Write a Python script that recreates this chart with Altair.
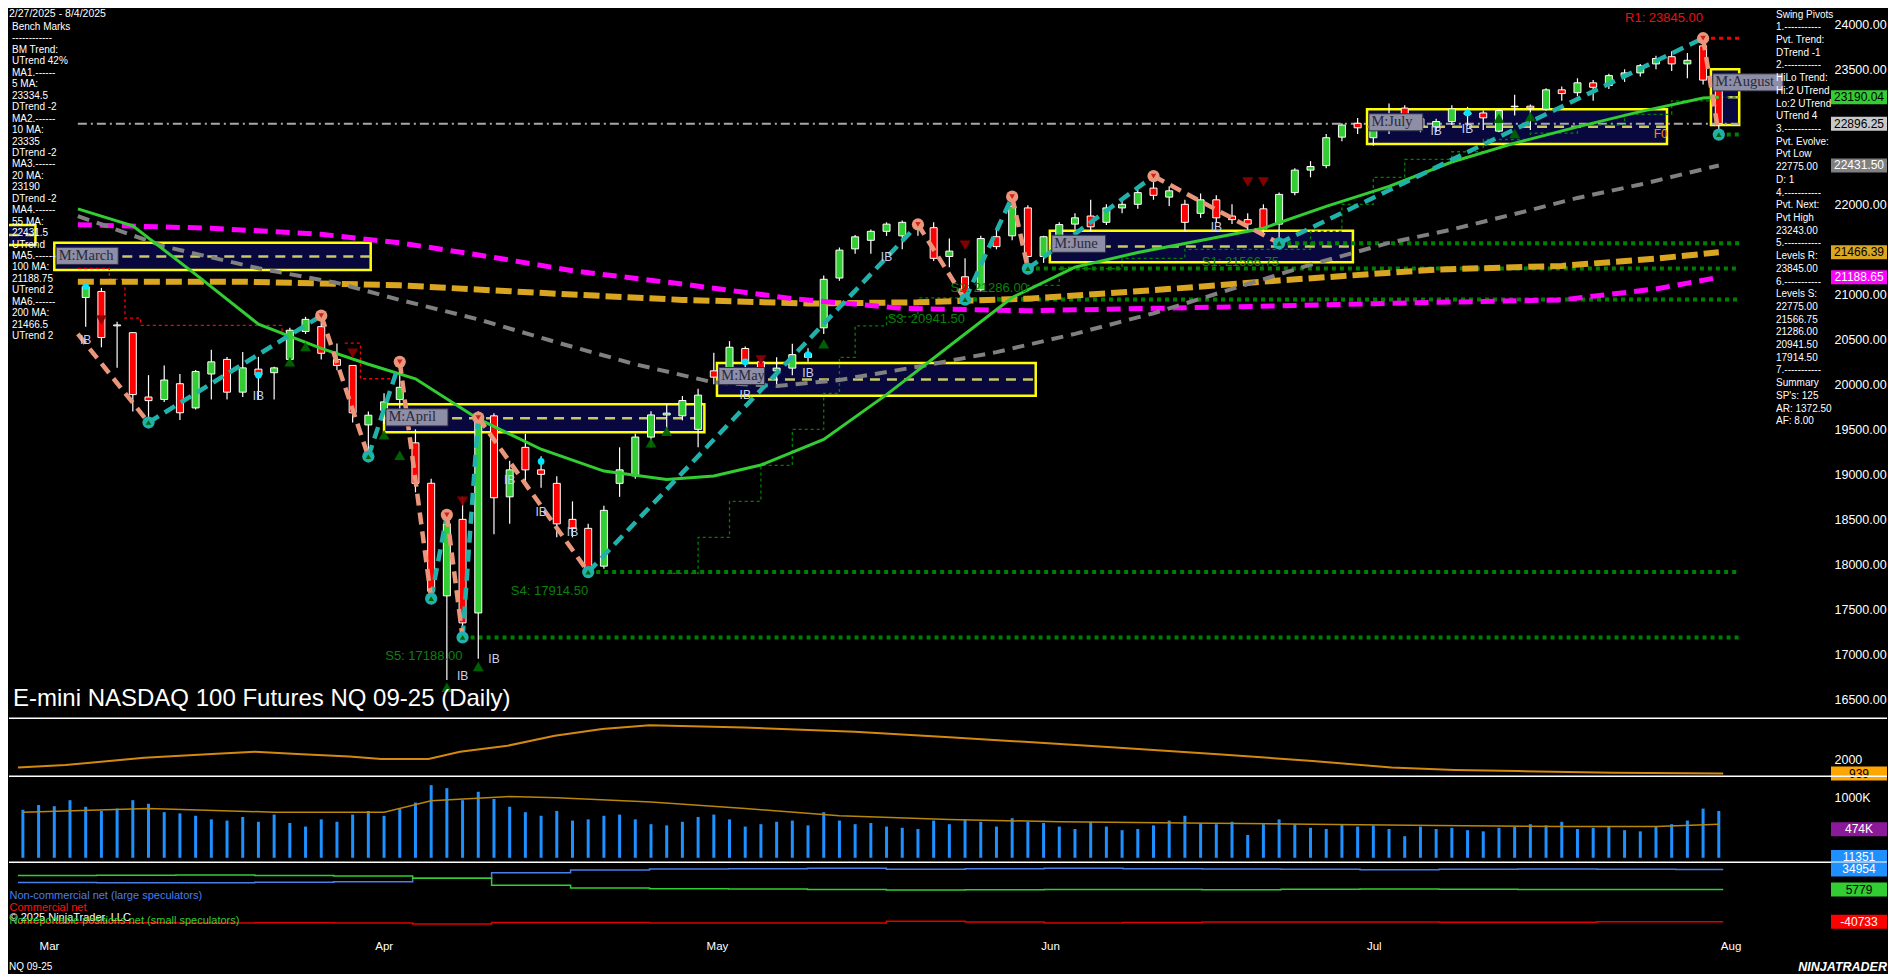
import altair as alt
import pandas as pd

FONT = "Liberation Sans"
SERIF = "Liberation Serif"

# ------------------------------------------------------------------ data
bar_idx = list(range(105))  # daily bars 5 Mar 2025 .. 1 Aug 2025
opens = [20965, 21032, 20660, 20574, 19859, 19832, 20007, 19738, 20115, 20277,
         19913, 20169, 20129, 20277, 20587, 20641, 20277, 20210, 19549, 19711,
         19832, 19350, 18901, 17650, 18500, 17460, 19650, 18750, 19300, 19050,
         18900, 18500, 18400, 17980, 18900, 18983, 19414, 19660, 19650, 19500,
         20150, 20100, 20398, 20250, 20150, 20180, 20340, 20628, 21181, 21505,
         21600, 21700, 21650, 21780, 21740, 21420, 21195, 21050, 21640, 21650,
         21960, 21420, 21640, 21780, 21870, 21800, 21960, 22000, 22180, 22080,
         22000, 21900, 22050, 21870, 21830, 21950, 21780, 22130, 22380, 22430,
         22746, 22900, 22740, 22870, 23069, 22950, 22860, 22920, 23020, 23015,
         22813, 23083, 23090, 23056, 23272, 23240, 23350, 23320, 23430, 23460,
         23560, 23640, 23560, 23760, 23380]
highs = [21140, 21072, 20695, 20580, 20102, 20210, 20115, 20160, 20385, 20305,
         20358, 20305, 20196, 20628, 20750, 20790, 20453, 20210, 19697, 19900,
         20250, 19500, 18950, 18560, 18750, 19700, 19680, 19150, 19450, 19200,
         18980, 18700, 18450, 18650, 19300, 19450, 19700, 19780, 19870, 19950,
         20350, 20480, 20420, 20300, 20300, 20450, 20400, 21210, 21520, 21660,
         21720, 21800, 21820, 21790, 21800, 21620, 21400, 21650, 21720, 22085,
         21990, 21650, 21800, 21900, 22050, 22000, 22060, 22160, 22314, 22200,
         22050, 22120, 22100, 22000, 21900, 22000, 22130, 22400, 22480, 22780,
         22900, 22960, 22900, 23120, 23100, 23000, 22950, 23100, 23083, 23042,
         23060, 23218, 23110, 23290, 23310, 23400, 23380, 23450, 23500, 23560,
         23650, 23700, 23680, 23845, 23420]
lows = [20641, 20412, 20183, 19697, 19620, 19805, 19603, 19720, 19832, 19832,
        19860, 19832, 19832, 20237, 20560, 20277, 20156, 19576, 19230, 19560,
        19700, 18800, 17620, 16716, 17188, 16950, 18335, 18450, 18900, 18850,
        18300, 18300, 17914.5, 17950, 18750, 18950, 19300, 19450, 19600, 19300,
        20000, 20050, 20150, 20050, 20000, 20100, 20250, 20560, 21150, 21450,
        21450, 21650, 21500, 21650, 21370, 21300, 20941.5, 21030, 21500, 21600,
        21286, 21350, 21560, 21720, 21700, 21770, 21900, 21950, 22050, 21980,
        21700, 21850, 21800, 21780, 21700, 21650, 21566.75, 22100, 22300, 22400,
        22700, 22780, 22650, 22780, 22900, 22800, 22800, 22880, 22870, 22826,
        22800, 22988, 22826, 23040, 23150, 23200, 23150, 23280, 23360, 23420,
        23500, 23480, 23400, 23330, 22775]
closes = [21086, 20520, 20650, 19886, 19819, 20048, 19684, 20142, 20250, 19913,
          20183, 20102, 20183, 20601, 20722, 20345, 20210, 19684, 19657, 19805,
          19967, 18900, 17701, 18450, 17350, 19650, 18740, 19050, 19050, 19000,
          18450, 18400, 17950, 18600, 19050, 19414, 19660, 19680, 19820, 19880,
          20080, 20412, 20250, 20120, 20180, 20330, 20300, 21167, 21491, 21639,
          21700, 21780, 21800, 21740, 21400, 21480, 20990, 21620, 21530, 21980,
          21420, 21640, 21775, 21850, 21750, 21960, 22000, 22130, 22100, 22150,
          21800, 22050, 21850, 21830, 21780, 21730, 22110, 22380, 22420, 22740,
          22880, 22850, 22867, 22900, 22950, 22860, 22920, 23060, 23000, 22961,
          23042, 23090, 23070, 23272, 23230, 23350, 23300, 23430, 23460, 23540,
          23620, 23560, 23600, 23380, 22896.25]

vol_idx = list(range(-4, 105))
vol_k = [800, 880, 860, 960,
         850, 780, 820, 960, 900, 760, 740, 700, 640, 620, 680, 600, 720, 580, 520, 640, 600, 720, 780,
         700, 820, 920, 1210, 1160, 960, 1100, 980, 850, 760, 700, 780, 620, 640, 700, 720, 640, 560, 540, 600, 680,
         720, 640, 520, 560, 600, 620, 540, 760, 620, 560, 580, 520, 500, 480, 620, 560, 640, 600, 520, 660, 600,
         580, 520, 480, 600, 520, 460, 480, 540, 620, 700, 580, 560, 600, 380, 560, 640, 560, 500, 480, 560, 520,
         540, 480, 360, 520, 480, 500, 460, 440, 500, 520, 560, 540, 600, 480, 500, 520, 460, 440, 520, 560, 620, 820,
         780]
vma_idx = [-4, 4, 12, 19, 22, 27, 30, 36, 42, 48, 55, 62, 70, 78, 86, 94, 100, 104]
vma_k = [760, 820, 760, 760, 950, 1020, 1000, 930, 820, 700, 640, 600, 580, 560, 540, 520, 520, 560]

osc_idx = [-4, -1, 4, 8, 11, 14, 17, 19, 22, 24, 27, 30, 33, 36, 42, 49, 55, 60, 66, 72, 78, 83, 87, 91, 97, 104]
osc_val = [1381, 1558, 2088, 2354, 2530, 2354, 2177, 2000, 2000, 2530, 2972, 3700, 4200, 4475, 4300, 4000,
           3600, 3240, 2800, 2354, 1850, 1381, 1200, 1116, 1000, 939]

cot_idx = [-4, 1, 6, 11, 16, 21, 26, 31, 36, 41, 46, 51, 56, 61, 66, 71, 76, 81, 86, 91, 96, 101, 104]
cot_noncomm = [16000, 15800, 15500, 16200, 17000, 22000, 30000, 34000, 35500, 36000, 36500, 35000,
               35800, 36500, 36000, 35500, 35000, 34500, 35200, 35500, 35000, 34954, 34954]
cot_nonrep = [26000, 26500, 27000, 26000, 25500, 22000, 12000, 8000, 7000, 6500, 6000, 5000,
              5500, 6000, 5800, 5500, 6200, 6500, 6300, 6000, 5900, 5779, 5779]
cot_comm = [-42000, -42300, -42500, -42200, -42500, -44000, -42000, -42000, -42500, -42500, -42500, -40000,
            -41300, -42500, -41800, -41000, -41200, -41000, -41500, -41500, -40900, -40733, -40733]

ma20_idx = [-0.5, 3, 7, 11, 15, 18, 21, 25, 29, 33, 37, 40, 43, 47, 51, 55, 59, 63, 67, 71, 75, 79, 83, 87, 91, 95, 99, 103, 104]
ma20_val = [21950, 21761, 21221, 20668, 20399, 20223, 20062, 19616, 19279, 19036, 18942, 18982, 19104, 19387,
            19886, 20426, 20965, 21302, 21464, 21599, 21734, 21977, 22200, 22470, 22680, 22860, 23030, 23180, 23190.04]
ma55_idx = [-0.5, 5, 11, 16, 20, 25, 30, 35, 40, 44, 48, 53, 58, 63, 68, 73, 78, 83, 87, 92, 95, 99, 104]
ma55_val = [21869, 21532, 21289, 21127, 20938, 20722, 20466, 20223, 20021, 19981, 20048, 20196, 20358, 20561,
            20790, 21060, 21329, 21572, 21720, 21936, 22071, 22220, 22431.5]
ma100_idx = [-0.5, 8, 15, 20, 26, 31, 38, 45, 52, 60, 68, 76, 86, 94, 100, 104]
ma100_val = [21774, 21734, 21667, 21572, 21410, 21262, 21114, 20952, 20844, 20817, 20844, 20871, 20911, 20938,
             21060, 21188.65]
ma200_idx = [-0.5, 10, 20, 30, 38, 46, 53, 60, 68, 76, 86, 94, 100, 104]
ma200_val = [21140, 21140, 21100, 21006, 20938, 20898, 20911, 20952, 21046, 21154, 21275, 21316, 21397, 21466.39]

piv_idx = [-0.5, 4, 15, 18, 20, 22, 23, 24, 25, 32, 53, 56, 59, 60, 68, 76, 103, 104]
piv_val = [20560, 19576, 20763, 19198, 20250, 17620, 18550, 17188, 19630, 17914.5, 21776, 20941.5,
           22085, 21286, 22314, 21566.75, 23845, 22775]
piv_kind = ["H", "L", "H", "L", "H", "L", "H", "L", "H", "L", "H", "L", "H", "L", "H", "L", "H", "L"]

lev_names = ["S5", "S4", "S3", "S2", "S1"]
lev_vals = [17188.0, 17914.5, 20941.5, 21286.0, 21566.75]
lev_start = [24, 32, 56, 60, 76]
r1_val, r1_start = 23845.0, 103
pvt_low_val, pvt_low_start = 22775.0, 104

box_names = ["", "M:March", "M:April", "M:May", "M:June", "M:July", "M:August"]
box_start = [-6, -2, 19, 40.2, 61.4, 81.6, 103.5]
box_end = [-3.2, 18.15, 39.4, 60.5, 80.7, 100.7, 105.3]
box_top = [21770, 21572, 19778, 20237, 21707, 23056, 23500]
box_bot = [21548, 21270, 19468, 19873, 21356, 22670, 22880]

gtrail_idx = [37, 39, 41, 43, 45, 47, 48, 49, 51, 53, 57, 60, 62, 66, 70, 76, 78, 80, 82, 84, 87, 89, 92, 95, 98, 101, 104, 105.3]
gtrail_val = [17900, 18300, 18700, 19100, 19500, 19900, 20300, 20650, 20750, 20960, 20960, 21100, 21286, 21400,
              21500, 21500, 21700, 22000, 22300, 22500, 22584, 22720, 22790, 22880, 23000, 23150, 23190, 23190]
rtrail1_idx = [-0.5, 1.5, 2.5, 3.5, 12.5, 14]
rtrail1_val = [21289, 21167, 20736, 20655, 20594, 20594]
rtrail2_idx = [16.5, 17.5, 20]
rtrail2_val = [20458, 20062, 20062]

up_sig_idx = [13, 14, 19, 20, 23, 25, 36, 37, 47, 90, 91, 92]
up_sig_val = [20250, 20419, 19441, 19212, 16636, 16865, 19350, 19480, 20452, 22955, 22786, 22975]
dn_sig_idx = [1, 17, 24, 43, 56, 74, 75]
dn_sig_val = [20716, 20345, 18700, 20270, 21545, 22247, 22247]
ib_idx = [0, 11, 24, 26, 27, 29, 31, 42, 46, 51, 72, 86, 88]
ib_val = [20493, 19873, 16760, 16946, 18942, 18578, 18362, 19880, 20129, 21410, 21747, 22813, 22840]
dot_idx = [0, 11, 29, 42, 46, 88]
dot_val = [21086, 20102, 19144, 20250, 20330, 23015]
f0_idx, f0_val = 100.3, 22786

date_range = "2/27/2025 - 8/4/2025"
left_lines = ["Bench Marks", "------------", "BM Trend:", "UTrend 42%", "MA1.------", "5 MA:", "23334.5",
              "DTrend -2", "MA2.------", "10 MA:", "23335", "DTrend -2", "MA3.------", "20 MA:", "23190",
              "DTrend -2", "MA4.------", "55 MA:", "22431.5", "UTrend", "MA5.------", "100 MA:", "21188.75",
              "UTrend 2", "MA6.------", "200 MA:", "21466.5", "UTrend 2"]
right_lines = ["Swing Pivots", "1.-----------", "Pvt. Trend:", "DTrend -1", "2.-----------", "HiLo Trend:",
               "Hi:2 UTrend", "Lo:2 UTrend", "UTrend 4", "3.-----------", "Pvt. Evolve:", "Pvt Low", "22775.00",
               "D: 1", "4.-----------", "Pvt. Next:", "Pvt High", "23243.00", "5.-----------", "Levels R:",
               "23845.00", "6.-----------", "Levels S:", "22775.00", "21566.75", "21286.00", "20941.50",
               "17914.50", "7.-----------", "Summary", "SP's: 125", "AR: 1372.50", "AF: 8.00"]
chart_title = "E-mini NASDAQ 100 Futures NQ 09-25 (Daily)"
cot_legend = ["Non-commercial net (large speculators)", "Commercial net", "\u00a9 2025 NinjaTrader, LLC",
              "Nonreportable positions net (small speculators)"]
cot_legend_colors = ["#4A7FE8", "#FF1010", "#FFFFFF", "#32CD32"]

month_ticks = [-2, 19.2, 40.3, 61.4, 81.9, 104.5]
month_names = ["Mar", "Apr", "May", "Jun", "Jul", "Aug"]
price_ticks = list(range(16500, 24001, 500))

main_mk_vals = [23190.04, 22896.25, 22431.50, 21466.39, 21188.65]
main_mk_text = ["23190.04", "22896.25", "22431.50", "21466.39", "21188.65"]
main_mk_bg = ["#32CD32", "#C8C8C8", "#808080", "#DAA520", "#FF00FF"]
main_mk_fg = ["#000000", "#000000", "#FFFFFF", "#000000", "#FFFFFF"]
p2_mk_vals, p2_mk_text = [939], ["939"]
p3_mk_vals, p3_mk_text = [474000, 11351], ["474K", "11351"]
p4_mk_vals, p4_mk_text = [34954, 5779, -40733], ["34954", "5779", "-40733"]

# ------------------------------------------------------------------ layout
W = 1820
H_MAIN, H_P2, H_P3, H_P4 = 711, 56, 84, 73
X_LO, X_HI = -4.566, 110.70
Y_MAIN = [16282, 24181]
Y_P2 = [683, 4782]
Y_P3 = [-87000, 1313000]
Y_P4 = [-64319, 41321]
END_I = bar_idx[-1] + 1.3
XS = alt.Scale(domain=[X_LO, X_HI], nice=False, zero=False)
ONE = pd.DataFrame({"a": [0]})

# price labels hidden behind the value markers (as in the reference) are left out
px_per_pt = H_MAIN / (Y_MAIN[1] - Y_MAIN[0])
shown_ticks = [t for t in price_ticks if all(abs(t - m) * px_per_pt > 12 for m in main_mk_vals)]


def right_axis(values, fmt=None, expr=None):
    kw = dict(orient="right", values=values, labelColor="#FFFFFF", labelFontSize=12.5, labelFont=FONT,
              labelPadding=5, ticks=False, domain=False, grid=False, title=None)
    if fmt:
        kw["format"] = fmt
    if expr:
        kw["labelExpr"] = expr
    return alt.Axis(**kw)


AX_MAIN = right_axis(shown_ticks, fmt=".2f")
AX_P2 = right_axis([2000], fmt="d")
AX_P3 = right_axis([1000000], expr="'1000K'")
AX_P4 = None
PANEL_AXIS = {"main": AX_MAIN, "p2": AX_P2, "p3": AX_P3, "p4": AX_P4}
PANEL_DOM = {"main": Y_MAIN, "p2": Y_P2, "p3": Y_P3, "p4": Y_P4}
PANEL_H = {"main": H_MAIN, "p2": H_P2, "p3": H_P3, "p4": H_P4}


def X(field):
    return alt.X(f"{field}:Q", scale=XS, axis=None)


def Y(field, panel):
    return alt.Y(f"{field}:Q", scale=alt.Scale(domain=PANEL_DOM[panel], nice=False, zero=False),
                 axis=PANEL_AXIS[panel])


def PX(field):
    return alt.X(f"{field}:Q", scale=None)


def PY(field):
    return alt.Y(f"{field}:Q", scale=None)


def line(idx, vals, panel, color, width, dash=None, interp=None):
    df = pd.DataFrame({"i": idx, "v": vals})
    kw = dict(color=color, strokeWidth=width)
    if dash:
        kw["strokeDash"] = dash
    if interp:
        kw["interpolate"] = interp
    return alt.Chart(df).mark_line(**kw).encode(x=X("i"), y=Y("v", panel))


def markers(vals, texts, bgs, fgs, panel):
    dom, h = PANEL_DOM[panel], PANEL_H[panel]
    half = 7.0 * (dom[1] - dom[0]) / h
    df = pd.DataFrame({"v": vals, "t": texts, "bg": bgs, "fg": fgs})
    r = alt.Chart(df).transform_calculate(lo=f"datum.v - {half}", hi=f"datum.v + {half}").mark_rect().encode(
        x=alt.value(W + 2), x2=alt.value(W + 58), y=Y("lo", panel), y2="hi:Q",
        color=alt.Color("bg:N", scale=None))
    t = alt.Chart(df).mark_text(align="center", baseline="middle", font=FONT, fontSize=12).encode(
        x=alt.value(W + 30), y=Y("v", panel), text="t:N", color=alt.Color("fg:N", scale=None))
    return [r, t]


def separator(h):
    return alt.Chart(ONE).mark_rule(color="#FFFFFF", strokeWidth=1.5).encode(
        x=alt.value(0), x2=alt.value(W + 58), y=alt.value(h - 0.75))


# ------------------------------------------------------------------ main panel
cdf = pd.DataFrame({"i": bar_idx, "open": opens, "high": highs, "low": lows, "close": closes})
cdf["col"] = ["#32CD32" if c >= o else "#FF0000" for o, c in zip(opens, closes)]

layers = []

bx = pd.DataFrame({"name": box_names, "s": box_start, "e": box_end, "top": box_top, "bot": box_bot})
layers.append(alt.Chart(bx).mark_rect(fill="#08083E", stroke="#FFFF00", strokeWidth=2.5, clip=True).encode(
    x=X("s"), x2="e:Q", y=Y("top", "main"), y2="bot:Q"))
layers.append(alt.Chart(bx).transform_calculate(mid="(datum.top + datum.bot) / 2").mark_rule(
    color="#C8C864", strokeWidth=2.5, strokeDash=[10, 7], clip=True).encode(
    x=X("s"), x2="e:Q", y=Y("mid", "main")))

layers.append(line([-0.5, END_I], [closes[-1], closes[-1]], "main", "#A8A8A8", 2, dash=[9, 4, 2, 4]))

lev_rows = []
for n, v, s in zip(lev_names + ["P"], lev_vals + [pvt_low_val], lev_start + [pvt_low_start]):
    lev_rows += [{"n": n, "i": s, "v": v}, {"n": n, "i": END_I, "v": v}]
lev_df = pd.DataFrame(lev_rows)
layers.append(alt.Chart(lev_df).mark_line(color="#008000", strokeWidth=4, strokeDash=[4, 4]).encode(
    x=X("i"), y=Y("v", "main"), detail="n:N"))
layers.append(line([r1_start, END_I], [r1_val, r1_val], "main", "#FF0000", 3, dash=[4, 4]))

layers.append(line(gtrail_idx, gtrail_val, "main", "#008000", 1.3, dash=[3, 3], interp="step-after"))
layers.append(line(rtrail1_idx, rtrail1_val, "main", "#FF0000", 1.3, dash=[3, 3], interp="step-after"))
layers.append(line(rtrail2_idx, rtrail2_val, "main", "#FF0000", 1.3, dash=[3, 3], interp="step-after"))

layers.append(alt.Chart(cdf).mark_rule(color="#FFFFFF", strokeWidth=1.2).encode(
    x=X("i"), y=Y("low", "main"), y2="high:Q"))
layers.append(alt.Chart(cdf).mark_bar(size=7, stroke="#FFFFFF", strokeWidth=1).encode(
    x=X("i"), y=Y("open", "main"), y2="close:Q", color=alt.Color("col:N", scale=None)))

layers.append(line(ma200_idx, ma200_val, "main", "#DAA520", 6, dash=[16, 6]))
layers.append(line(ma100_idx, ma100_val, "main", "#FF00FF", 5, dash=[14, 8]))
layers.append(line(ma55_idx, ma55_val, "main", "#808080", 4, dash=[12, 8]))
layers.append(line(ma20_idx, ma20_val, "main", "#32CD32", 3))

seg_rows = []
for k in range(len(piv_idx) - 1):
    kind = "up" if piv_kind[k] == "L" else "down"
    seg_rows.append({"i": piv_idx[k], "v": piv_val[k], "seg": k, "kind": kind})
    seg_rows.append({"i": piv_idx[k + 1], "v": piv_val[k + 1], "seg": k, "kind": kind})
zz = pd.DataFrame(seg_rows)
layers.append(alt.Chart(zz).transform_filter("datum.kind == 'up'").mark_line(
    color="#20B2AA", strokeWidth=4.5, strokeDash=[12, 7]).encode(x=X("i"), y=Y("v", "main"), detail="seg:N"))
layers.append(alt.Chart(zz).transform_filter("datum.kind == 'down'").mark_line(
    color="#E9967A", strokeWidth=4.5, strokeDash=[12, 7]).encode(x=X("i"), y=Y("v", "main"), detail="seg:N"))

pv = pd.DataFrame({"i": piv_idx[1:], "v": piv_val[1:], "k": piv_kind[1:]})
layers.append(alt.Chart(pv).transform_filter("datum.k == 'L'").mark_circle(size=150, color="#20B2AA", opacity=1).encode(
    x=X("i"), y=Y("v", "main")))
layers.append(alt.Chart(pv).transform_filter("datum.k == 'H'").mark_circle(size=150, color="#E9967A", opacity=1).encode(
    x=X("i"), y=Y("v", "main")))
layers.append(alt.Chart(pv).transform_filter("datum.k == 'L'").mark_point(
    shape="triangle-up", filled=True, size=30, color="#006400", opacity=1).encode(x=X("i"), y=Y("v", "main")))
layers.append(alt.Chart(pv).transform_filter("datum.k == 'H'").mark_point(
    shape="triangle-down", filled=True, size=30, color="#CC2020", opacity=1).encode(x=X("i"), y=Y("v", "main")))

layers.append(alt.Chart(pd.DataFrame({"i": up_sig_idx, "v": up_sig_val})).mark_point(
    shape="triangle-up", filled=True, size=120, color="#006400", opacity=0.95).encode(x=X("i"), y=Y("v", "main")))
layers.append(alt.Chart(pd.DataFrame({"i": dn_sig_idx, "v": dn_sig_val})).mark_point(
    shape="triangle-down", filled=True, size=120, color="#8B0000", opacity=0.95).encode(x=X("i"), y=Y("v", "main")))
layers.append(alt.Chart(pd.DataFrame({"i": dot_idx, "v": dot_val})).mark_circle(
    size=45, color="#00E5FF", opacity=1).encode(x=X("i"), y=Y("v", "main")))
layers.append(alt.Chart(pd.DataFrame({"i": ib_idx, "v": ib_val, "t": ["IB"] * len(ib_idx)})).mark_text(
    font=FONT, fontSize=12, color="#C8D0F0", align="center", baseline="middle").encode(
    x=X("i"), y=Y("v", "main"), text="t:N"))
layers.append(alt.Chart(pd.DataFrame({"i": [f0_idx], "v": [f0_val], "t": ["F0"]})).mark_text(
    font=FONT, fontSize=12, color="#FF8C00", align="center", baseline="middle").encode(
    x=X("i"), y=Y("v", "main"), text="t:N"))

lab_df = pd.DataFrame({"i": lev_start, "v": lev_vals,
                       "t": [f"{n}: {v:.2f}" for n, v in zip(lev_names, lev_vals)]})
layers.append(alt.Chart(lab_df).mark_text(font=FONT, fontSize=13, color="#0B800B", align="right",
                                          baseline="middle", dy=19).encode(x=X("i"), y=Y("v", "main"), text="t:N"))
layers.append(alt.Chart(pd.DataFrame({"i": [r1_start], "v": [r1_val], "t": [f"R1: {r1_val:.2f}"]})).mark_text(
    font=FONT, fontSize=13, color="#E81010", align="right", baseline="middle", dy=-20).encode(
    x=X("i"), y=Y("v", "main"), text="t:N"))

lbl = alt.Chart(bx).transform_filter("datum.name != ''").transform_calculate(
    lx="datum.s + 0.12", lx2="datum.s + 0.12 + (length(datum.name) * 8.2 + 5) / 15.79",
    ly="datum.top - 50", ly2="datum.top - 240", ty="datum.top - 145", tx="datum.s + 0.12 + 2.5 / 15.79")
layers.append(lbl.mark_rect(fill="#8E8EA6", stroke="#2E2E40", strokeWidth=1).encode(
    x=X("lx"), x2="lx2:Q", y=Y("ly", "main"), y2="ly2:Q"))
layers.append(lbl.mark_text(align="left", baseline="middle", font=SERIF, fontSize=14.5, color="#2A2A38").encode(
    x=X("tx"), y=Y("ty", "main"), text="name:N"))

left_df = pd.DataFrame({"t": left_lines, "px": [3] * len(left_lines),
                        "py": [19 + 11.45 * k for k in range(len(left_lines))]})
layers.append(alt.Chart(left_df).mark_text(font=FONT, fontSize=10, color="#FFFFFF", align="left",
                                           baseline="middle").encode(x=PX("px"), y=PY("py"), text="t:N"))
layers.append(alt.Chart(ONE).mark_text(font=FONT, fontSize=10.5, color="#FFFFFF", align="left",
                                       baseline="middle").encode(x=alt.value(0), y=alt.value(5.5),
                                                                 text=alt.value(date_range)))
right_df = pd.DataFrame({"t": right_lines, "px": [W - 53] * len(right_lines),
                         "py": [6.6 + 12.71 * k for k in range(len(right_lines))]})
layers.append(alt.Chart(right_df).mark_text(font=FONT, fontSize=10, color="#FFFFFF", align="left",
                                            baseline="middle").encode(x=PX("px"), y=PY("py"), text="t:N"))
layers.append(alt.Chart(ONE).mark_text(font=FONT, fontSize=24, color="#FFFFFF", align="left",
                                       baseline="middle").encode(x=alt.value(4), y=alt.value(691),
                                                                 text=alt.value(chart_title)))

layers += markers(main_mk_vals, main_mk_text, main_mk_bg, main_mk_fg, "main")
layers.append(separator(H_MAIN))

main = alt.layer(*layers).properties(width=W, height=H_MAIN)

# ------------------------------------------------------------------ panel 2
osc_df = pd.DataFrame({"i": osc_idx, "v": osc_val})
p2 = alt.layer(
    alt.Chart(osc_df).mark_line(color="#D4880F", strokeWidth=2).encode(x=X("i"), y=Y("v", "p2")),
    *markers(p2_mk_vals, p2_mk_text, ["#FFA500"], ["#000000"], "p2"),
    separator(H_P2),
).properties(width=W, height=H_P2)

# ------------------------------------------------------------------ panel 3 (volume)
vol_df = pd.DataFrame({"i": vol_idx, "v": [k * 1000 for k in vol_k], "z": [0] * len(vol_idx)})
vma_df = pd.DataFrame({"i": vma_idx, "v": [k * 1000 for k in vma_k]})
p3 = alt.layer(
    alt.Chart(vol_df).mark_bar(size=3, color="#1E90FF").encode(x=X("i"), y=Y("v", "p3"), y2="z:Q"),
    alt.Chart(vma_df).mark_line(color="#B8860B", strokeWidth=1.5).encode(x=X("i"), y=Y("v", "p3")),
    *markers(p3_mk_vals, p3_mk_text, ["#8B1A9B", "#1E90FF"], ["#FFFFFF", "#FFFFFF"], "p3"),
    separator(H_P3),
).properties(width=W, height=H_P3)

# ------------------------------------------------------------------ panel 4 (COT)
cot_df = pd.DataFrame({"i": cot_idx, "nc": cot_noncomm, "nr": cot_nonrep, "cm": cot_comm})
leg_df = pd.DataFrame({"t": cot_legend, "c": cot_legend_colors, "px": [0.5] * 4, "py": [31, 43, 53, 56]})
mon_df = pd.DataFrame({"i": month_ticks, "t": month_names})
p4 = alt.layer(
    alt.Chart(cot_df).mark_line(color="#4A7FE8", strokeWidth=1.5, interpolate="step-after").encode(
        x=X("i"), y=Y("nc", "p4")),
    alt.Chart(cot_df).mark_line(color="#32CD32", strokeWidth=1.5, interpolate="step-after").encode(
        x=X("i"), y=Y("nr", "p4")),
    alt.Chart(cot_df).mark_line(color="#E00000", strokeWidth=1.5, interpolate="step-after").encode(
        x=X("i"), y=Y("cm", "p4")),
    *markers(p4_mk_vals, p4_mk_text, ["#1E90FF", "#32CD32", "#FF0000"], ["#FFFFFF", "#000000", "#FFFFFF"], "p4"),
    alt.Chart(leg_df).mark_text(font=FONT, fontSize=11, align="left", baseline="middle").encode(
        x=PX("px"), y=PY("py"), text="t:N", color=alt.Color("c:N", scale=None)),
    alt.Chart(mon_df).mark_text(font=FONT, fontSize=11.5, color="#FFFFFF", align="center",
                                baseline="middle").encode(x=X("i"), y=alt.value(H_P4 + 9), text="t:N"),
    alt.Chart(ONE).mark_text(font=FONT, fontSize=10, color="#FFFFFF", align="left", baseline="middle").encode(
        x=alt.value(0), y=alt.value(H_P4 + 29), text=alt.value("NQ 09-25")),
    alt.Chart(ONE).mark_text(font=FONT, fontSize=12.5, fontStyle="italic", fontWeight="bold", color="#FFFFFF",
                             align="right", baseline="middle").encode(
        x=alt.value(W + 58), y=alt.value(H_P4 + 29), text=alt.value("NINJATRADER")),
).properties(width=W, height=H_P4)

chart = alt.vconcat(main, p2, p3, p4, spacing=2, bounds="flush").properties(
    background="#000000", padding=0).configure_view(stroke=None)

chart.save("out.html", embed_options={"renderer": "svg", "actions": False})
